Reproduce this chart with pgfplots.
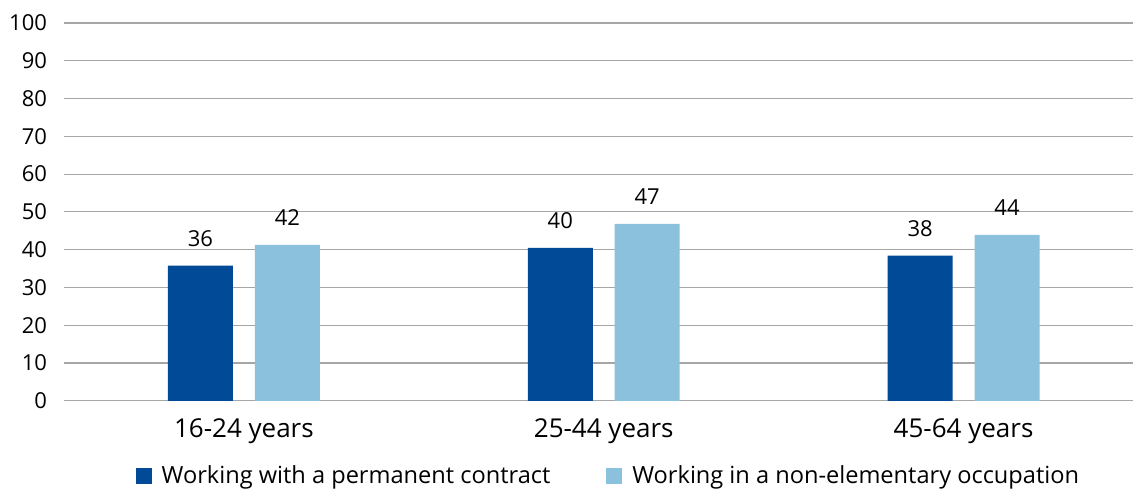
\documentclass[border=0pt]{standalone}
\usepackage{pgfplots}
\pgfplotsset{compat=1.18}
\usepackage{fontspec}
\setmainfont{Open Sans}
\definecolor{dblue}{HTML}{004A98}
\definecolor{lblue}{HTML}{8BC1DD}
\definecolor{gridgray}{HTML}{A6A6A6}
\begin{document}
\begin{tikzpicture}[x=0.5pt,y=0.5pt]
\begin{axis}[
  scale only axis,
  width=535pt, height=189pt,
  xmin=-0.5, xmax=2.472,
  ymin=0, ymax=100,
  ytick={0,10,...,100},
  xtick={0,1,2},
  xticklabels={16-24 years,25-44 years,45-64 years},
  axis line style={draw=none},
  major tick style={draw=none},
  ymajorgrids,
  grid style={gridgray, line width=0.6pt},
  font=\fontsize{11}{12}\selectfont,
  /pgf/number format/assume math mode=true,
  yticklabel style={anchor=east, xshift=-5pt, font=\fontsize{11}{12}\selectfont},
  xticklabel style={yshift=-1pt, font=\fontsize{13}{15}\selectfont},
  ybar,
  bar width=0.1806,
  point meta=explicit symbolic,
  nodes near coords,
  every node near coord/.append style={font=\fontsize{11}{12}\selectfont, yshift=6pt},
  legend columns=2,
  legend style={draw=none, at={(0.51,-0.2)}, anchor=center, font=\fontsize{11.8}{13}\selectfont,
    /tikz/every even column/.append style={column sep=26pt}},
  legend image code/.code={\fill[#1, draw=none] (0pt,-4pt) rectangle (8pt,4pt); \path (11pt,0pt);},
  clip=false,
]
\addplot[fill=dblue, draw=none, bar shift=-0.1208] coordinates {(0,35.8) [36] (1,40.5) [40] (2,38.4) [38]};
\addplot[fill=lblue, draw=none, bar shift=0.1208] coordinates {(0,41.3) [42] (1,46.8) [47] (2,43.9) [44]};
\legend{Working with a permanent contract, Working in a non-elementary occupation}
\end{axis}
\useasboundingbox (-64,-85) rectangle (1070,401);
\end{tikzpicture}
\end{document}
